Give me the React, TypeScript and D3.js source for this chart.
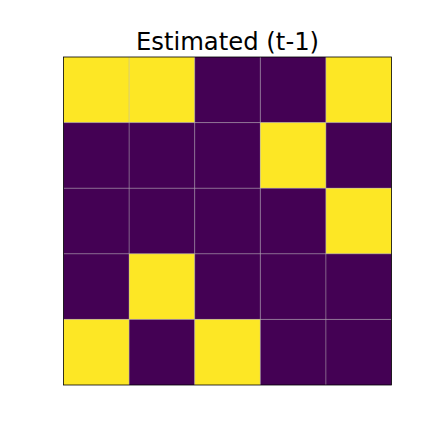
import * as d3 from "d3";

// 5x5 binary matrix, row by row (top to bottom)
const rows = [0, 1, 2, 3, 4];
const cols = [0, 1, 2, 3, 4];
const values = [
  [1, 1, 0, 0, 1],
  [0, 0, 0, 1, 0],
  [0, 0, 0, 0, 1],
  [0, 1, 0, 0, 0],
  [1, 0, 1, 0, 0],
];
const title = "Estimated (t-1)";

export default function App() {
  const width = 423;
  const height = 423;
  const margin = { top: 57, right: 31.5, bottom: 38, left: 63.5 };
  const w = width - margin.left - margin.right;
  const h = height - margin.top - margin.bottom;

  const x = d3.scaleBand<number>().domain(cols).range([0, w]);
  const y = d3.scaleBand<number>().domain(rows).range([0, h]);
  const color = d3.scaleSequential(d3.interpolateViridis).domain([0, 1]);

  return (
    <svg
      width={width}
      height={height}
      style={{ position: "absolute", left: 0, top: 0, background: "#fff" }}
    >
      <text
        x={margin.left + w / 2}
        y={50}
        textAnchor="middle"
        fontFamily="DejaVu Sans"
        fontSize={24.3}
        fill="#000"
      >
        {title}
      </text>
      <g transform={`translate(${margin.left},${margin.top})`}>
        {values.map((row, i) =>
          row.map((v, j) => (
            <rect
              key={`${i}-${j}`}
              x={x(j)}
              y={y(i)}
              width={x.bandwidth()}
              height={y.bandwidth()}
              fill={color(v)}
            />
          ))
        )}
        {/* 格線 */}
        {cols.slice(1).map((c) => (
          <line
            key={`v${c}`}
            x1={x(c)}
            x2={x(c)}
            y1={0}
            y2={h}
            stroke="#b0b0b0"
            strokeOpacity={0.6}
            strokeWidth={0.8}
          />
        ))}
        {rows.slice(1).map((r) => (
          <line
            key={`h${r}`}
            y1={y(r)}
            y2={y(r)}
            x1={0}
            x2={w}
            stroke="#b0b0b0"
            strokeOpacity={0.6}
            strokeWidth={0.8}
          />
        ))}
        <rect width={w} height={h} fill="none" stroke="#000" strokeWidth={0.8} />
      </g>
    </svg>
  );
}
